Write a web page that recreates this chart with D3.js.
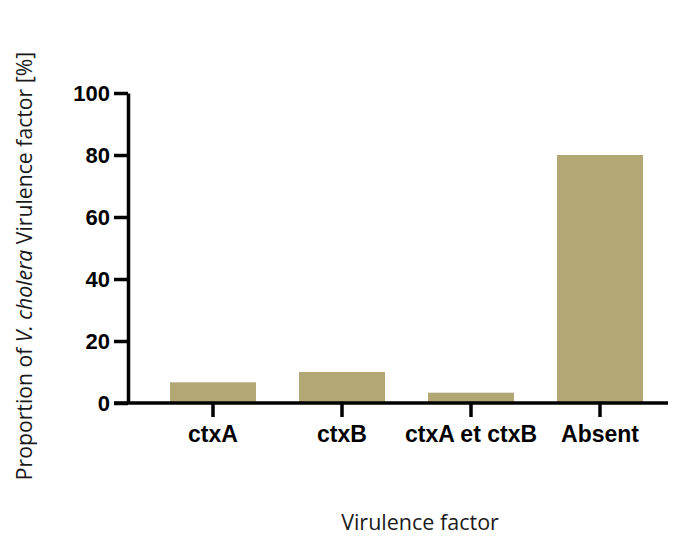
<!DOCTYPE html>
<html><head><meta charset="utf-8">
<script src="https://cdn.jsdelivr.net/npm/d3@7"></script>
<style>body{margin:0;background:#fff}</style>
</head><body>
<script>
const categories = ["ctxA", "ctxB", "ctxA et ctxB", "Absent"];
const values = [6.67, 10, 3.33, 80];
const yTicks = [0, 20, 40, 60, 80, 100];

const W = 678, H = 538;
const svg = d3.select("body").append("svg").attr("width", W).attr("height", H);

const x = d3.scaleBand().domain(categories).range([148.5, 664.5]).paddingInner(1/3).paddingOuter(1/6);
const y = d3.scaleLinear().domain([0, 100]).range([403, 93]);
const axisX0 = 128, axisX1 = 668;

svg.selectAll("rect.bar").data(values).enter().append("rect")
  .attr("class", "bar")
  .attr("x", (d, i) => x(categories[i]))
  .attr("width", x.bandwidth())
  .attr("y", d => y(d))
  .attr("height", d => y(0) - y(d))
  .attr("fill", "#b2a775");

// Y axis
const gy = svg.append("g").attr("transform", `translate(${axisX0},0)`)
  .call(d3.axisLeft(y).tickValues(yTicks).tickSize(14).tickSizeOuter(0).tickPadding(4));
gy.select(".domain").attr("stroke", "#000").attr("stroke-width", 3.5);
gy.selectAll(".tick line").attr("stroke", "#000").attr("stroke-width", 3.5);
gy.selectAll(".tick text").attr("font-family", "Liberation Sans, Arial, sans-serif")
  .attr("font-weight", "bold").attr("font-size", 22).attr("fill", "#000").attr("dy", "0.35em");

// X axis
const gx = svg.append("g").attr("transform", `translate(0,${y(0)})`)
  .call(d3.axisBottom(x).tickSize(14).tickSizeOuter(0).tickPadding(9));
gx.select(".domain").remove();
gx.selectAll(".tick line").attr("stroke", "#000").attr("stroke-width", 3.5);
gx.selectAll(".tick text").attr("font-family", "Liberation Sans, Arial, sans-serif")
  .attr("font-weight", "bold").attr("font-size", 23).attr("fill", "#000");
svg.append("line").attr("x1", axisX0 - 14).attr("x2", axisX1)
  .attr("y1", y(0)).attr("y2", y(0)).attr("stroke", "#000").attr("stroke-width", 3.5);

// Axis titles
svg.append("text").attr("x", 420).attr("y", 530).attr("text-anchor", "middle")
  .attr("font-family", "Open Sans, Noto Sans, sans-serif").attr("font-size", 21.5).attr("fill", "#1a1a1a")
  .text("Virulence factor");

const yt = svg.append("text").attr("transform", "translate(32,266) rotate(-90)")
  .attr("text-anchor", "middle")
  .attr("font-family", "Open Sans, Noto Sans, sans-serif").attr("font-size", 21.2).attr("fill", "#1a1a1a");
yt.append("tspan").text("Proportion of ");
yt.append("tspan").attr("font-style", "italic").text("V. cholera");
yt.append("tspan").text(" Virulence factor [%]");
</script>
</body></html>
